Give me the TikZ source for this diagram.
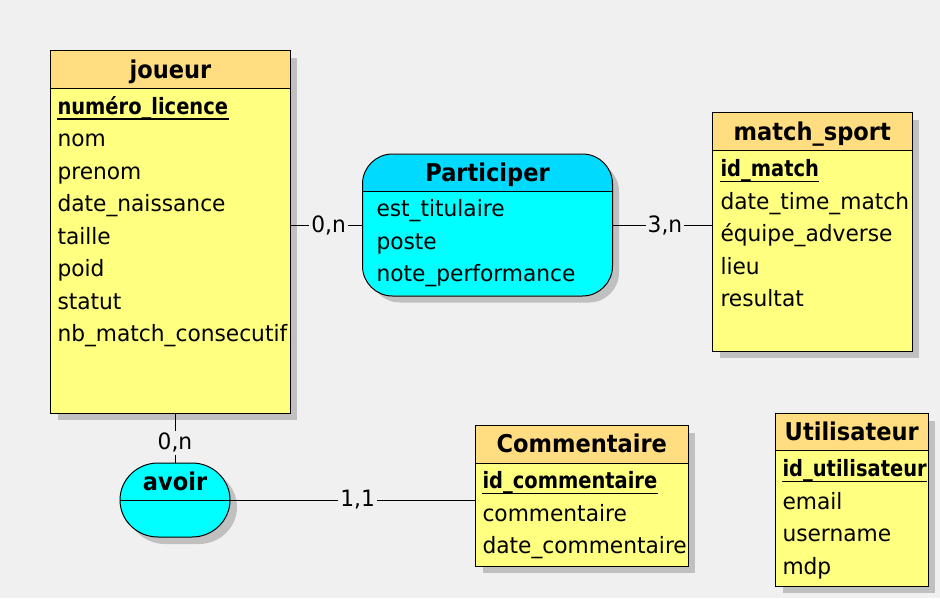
\documentclass[tikz,border=0pt]{standalone}
\usepackage{fontspec}
\setmainfont{DejaVu Sans}[FakeStretch=0.966]
\newfontfamily\keyfont{DejaVu Sans}[FakeStretch=0.865]
\newfontfamily\ttlfont{DejaVu Sans}[FakeStretch=0.92]
\usetikzlibrary{fit}
\definecolor{bg}{RGB}{240,240,240}
\definecolor{shadowgray}{RGB}{192,192,192}
\definecolor{enthead}{RGB}{255,221,128}
\definecolor{entbody}{RGB}{255,255,128}
\definecolor{relhead}{RGB}{0,218,255}
\definecolor{relbody}{RGB}{0,255,255}
\tikzset{
  attr/.style={inner sep=0pt, anchor=base west, font=\fontsize{22.5}{27}\selectfont},
  keyattr/.style={attr, font=\keyfont\fontsize{22.5}{27}\selectfont\bfseries},
  ttl/.style={inner sep=0pt, anchor=base, font=\ttlfont\fontsize{24.5}{29}\selectfont\bfseries},
  card/.style={fill=bg, inner sep=2pt, font=\fontsize{22.5}{27}\selectfont},
  ul/.style={line width=1.3pt}
}
% #1 name, #2 left, #3 top, #4 right, #5 separator, #6 bottom, #7 title
\newcommand{\mcdent}[7]{%
  \fill[shadowgray] ({#2+7},{#3+7}) rectangle ({#4+7},{#6+7});
  \node[fit={(#2,#3) (#4,#6)}, inner sep=0pt, fill=entbody] (#1) {};
  \fill[enthead] (#2,#3) rectangle (#4,#5);
  \draw (#1.north west) rectangle (#1.south east);
  \draw (#2,#5) -- (#4,#5);
  \node[ttl] (#1-t) at ({(#2+#4)/2},{#3+27.4}) {#7};
}
\newcommand{\pkey}[1]{\draw[ul] ([yshift=-5pt]#1.base west) -- ([yshift=-5pt]#1.base east);}
\begin{document}
\begin{tikzpicture}[x=1pt, y=-1pt, line width=1pt]
\fill[bg] (0,0) rectangle (940,598);
\useasboundingbox (0,0) rectangle (940,598);

% ---------- joueur ----------
\mcdent{joueur}{51}{51}{290}{88}{413}{joueur}
\node[keyattr] (j1) at (57,114) {numéro\_licence};
\node[attr] (j2) at (57,146.7) {nom};
\node[attr] (j3) at (57,179.2) {prenom};
\node[attr] (j4) at (57,211.7) {date\_naissance};
\node[attr] (j5) at (57,244.2) {taille};
\node[attr] (j6) at (57,276.7) {poid};
\node[attr] (j7) at (57,309.2) {statut};
\node[attr] (j8) at (57,341.7) {nb\_match\_consecutif};
\pkey{j1}

% ---------- match_sport ----------
\mcdent{match}{713}{113}{911.5}{150.7}{350.7}{match\_sport}
\node[keyattr] (m1) at (720,176.7) {id\_match};
\node[attr] (m2) at (720,209.2) {date\_time\_match};
\node[attr] (m3) at (720,241.7) {équipe\_adverse};
\node[attr] (m4) at (720,274.2) {lieu};
\node[attr] (m5) at (720,306.7) {resultat};
\pkey{m1}

% ---------- Commentaire ----------
\mcdent{comm}{475.5}{425.5}{688}{463.3}{566}{Commentaire}
\node[keyattr] (c1) at (482,488.8) {id\_commentaire};
\node[attr] (c2) at (482,521.3) {commentaire};
\node[attr] (c3) at (482,553.8) {date\_commentaire};
\pkey{c1}

% ---------- Utilisateur ----------
\mcdent{util}{775.5}{413.5}{928}{450.7}{585.5}{Utilisateur}
\node[keyattr] (u1) at (782,476.7) {id\_utilisateur};
\node[attr] (u2) at (782,509.2) {email};
\node[attr] (u3) at (782,541.7) {username};
\node[attr] (u4) at (782,574.2) {mdp};
\pkey{u1}

% ---------- Participer ----------
\fill[shadowgray, rounded corners=30pt] (370,161.5) rectangle (619,302.5);
\node[fit={(363,154.5) (612,295.5)}, inner sep=0pt, rounded corners=30pt, fill=relbody] (part) {};
\begin{scope}
  \clip (363,150) rectangle (612,191.5);
  \fill[relhead, rounded corners=30pt] (363,154.5) rectangle (612,295.5);
\end{scope}
\draw[rounded corners=30pt] (part.north west) rectangle (part.south east);
\draw (363,191.5) -- (612,191.5);
\node[ttl] (part-t) at (487.5,181.7) {Participer};
\node[attr] (p1) at (376,216.7) {est\_titulaire};
\node[attr] (p2) at (376,249.2) {poste};
\node[attr] (p3) at (376,281.7) {note\_performance};

% ---------- avoir ----------
\fill[shadowgray] (165,470) -- (199,470)
  arc[start angle=-90, end angle=90, x radius=38, y radius=37] -- (165,544)
  arc[start angle=90, end angle=270, x radius=38, y radius=37] -- cycle;
\node[fit={(120,463) (230,537)}, inner sep=0pt] (avoir) {};
\fill[relbody] (158,463) -- (192,463)
  arc[start angle=-90, end angle=90, x radius=38, y radius=37] -- (158,537)
  arc[start angle=90, end angle=270, x radius=38, y radius=37] -- cycle;
\draw (158,463) -- (192,463)
  arc[start angle=-90, end angle=90, x radius=38, y radius=37] -- (158,537)
  arc[start angle=90, end angle=270, x radius=38, y radius=37] -- cycle;
\draw (avoir.west) -- (avoir.east);
\node[ttl] (avoir-t) at (175,490) {avoir};

% ---------- connectors ----------
\draw (joueur.east |- part.west) -- node[card, pos=0.53] {0,n} (part.west);
\draw (part.east) -- node[card, pos=0.525] {3,n} (part.east -| match.west);
\draw (avoir.north |- joueur.south) -- node[card, pos=0.6] {0,n} (avoir.north);
\draw (avoir.east) -- node[card, pos=0.52] {1,1} (avoir.east -| comm.west);
\end{tikzpicture}
\end{document}
